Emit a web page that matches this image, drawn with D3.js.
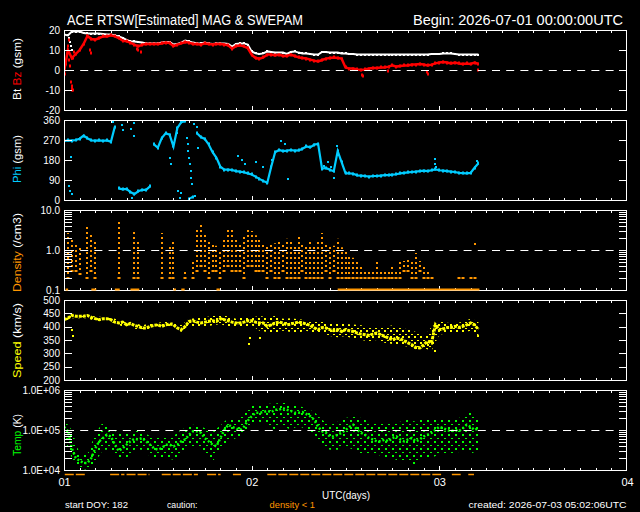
<!DOCTYPE html>
<html><head><meta charset="utf-8">
<script src="https://cdn.jsdelivr.net/npm/d3@7"></script>
<style>
html,body{margin:0;padding:0;background:#000;}
svg{display:block;}
text{font-family:"Liberation Sans",Arial,sans-serif;white-space:pre;}
</style></head><body>
<svg id="chart" width="640" height="512"></svg>
<script>
// ---------- DATA (hours since 2026-07-01 00:00 UTC) ----------
const STEP = 0.5;   // half-hourly samples for main series
const HSTEP = 1;    // hourly samples for spread envelopes
const dayLabels = ["01","02","03","04"];
const dayHours = [0,24,48,72];

const bzLabels = [-20,-10,0,10,20];
const bzTicks = [-10,0,10];
const phiLabels = [0,90,180,270,360];
const phiTicks = [90,180,270];
const denLabels = [0.1,1,10];
const denTicks = [0.2,0.3,0.4,0.5,0.6,0.7,0.8,0.9,1,2,3,4,5,6,7,8,9];
const spdLabels = [200,250,300,350,400,450,500];
const spdTicks = [250,300,350,400,450];
const tmpLabels = [1e4,1e5,1e6];
const tmpTickText = ["1.0E+04","1.0E+05","1.0E+06"];
const tmpTicks = [2e4,3e4,4e4,5e4,6e4,7e4,8e4,9e4,1e5,2e5,3e5,4e5,5e5,6e5,7e5,8e5,9e5];

const bt = [
 17.7,17.3,19.2,19.2,19.2,18.5,18.3,18.2,18.2,18.2,
 18.0,17.7,17.7,17.3,16.8,16.0,15.0,14.3,14.3,14.0,
 13.7,13.3,13.3,13.3,13.3,13.7,14.0,14.0,12.7,13.0,
 13.7,14.7,14.3,13.7,13.3,13.3,13.7,13.3,13.0,13.3,
 13.3,13.2,13.0,11.7,13.0,13.3,13.3,12.7,9.3,8.3,
 8.0,8.3,9.3,9.0,8.7,8.7,8.7,8.0,9.0,9.3,
 8.7,8.3,8.3,8.0,7.7,7.7,9.0,9.0,8.7,8.7,
 8.7,8.3,8.3,8.0,8.0,7.7,7.7,7.7,7.7,7.7,
 7.7,7.7,7.7,7.7,7.7,7.7,7.7,7.7,7.7,7.7,
 7.7,7.7,7.7,7.7,8.0,8.0,8.0,8.3,8.3,8.3,
 8.0,7.7,7.7,7.7,7.7,7.7,7.7];
const btOutT = [0.7,0.8,0.9,1.0];
const btOutV = [16,14,12,10];

const bz = [
 -1,10,6,8,10,13,17,15.5,15.2,16,
 16.8,16.8,17.3,16.8,16.0,14.7,14.3,13.7,12.7,11.8,
 12.7,13.0,13.0,13.0,13.0,13.3,13.7,13.5,12.0,12.7,
 13.3,14.0,13.7,13.0,13.0,12.7,13.3,13.0,12.7,13.0,
 13.0,12.7,12.3,10.7,12.0,12.3,11.8,11.0,7.7,6.0,
 5.7,6.3,7.7,7.7,7.3,7.7,7.0,7.0,7.7,7.0,
 6.3,6.0,5.7,5.2,4.7,4.3,5.0,5.7,6.0,6.3,
 6.0,5.7,1.3,0.7,0.7,0.3,0.0,0.3,0.7,1.0,
 1.0,1.3,1.3,1.7,2.3,1.7,2.0,2.3,2.3,2.7,
 2.7,3.0,2.7,2.3,2.7,3.3,3.7,4.0,3.7,3.3,
 3.7,3.3,3.0,3.3,3.0,3.7,3.0];
const bzOutT = [0.1,0.3,0.4,0.5,0.6,0.7,0.8,0.9,1.0,1.0,1.05,1.1,1.2,1.3,3.3,3.4,9.3,9.5,9.9,38.1,38.2,41.4,46.4,46.5,52.9];
const bzOutV = [-2,3,8,12,15,5,2,-6,-8,-10,-9,-10,6,9,10,8.5,10.5,10,9,-2.5,-3,-0.7,-1,-2,0];

const phi = [
 265,268,267,270,276,290,278,268,267,268,
 266,268,262,330,52,48,50,36,26,39,
 46,46,61,250,235,279,300,294,241,324,
 350,355,5,15,300,283,275,250,215,190,
 150,137,137,135,130,128,125,120,115,105,
 95,85,78,150,215,225,220,222,225,222,
 223,231,241,237,249,252,141,144,136,129,
 220,170,121,120,118,111,110,108,105,108,
 108,110,112,112,114,116,120,122,124,126,
 128,130,132,130,134,138,134,132,130,128,
 126,122,121,120,122,145,165];
const phiOutT = [0.7,0.8,0.9,1.0,6.3,7.4,7.5,8.6,8.7,8.9,9.0,13.6,13.7,14.4,14.6,14.8,15.0,15.3,15.7,15.8,15.9,16.0,16.1,16.2,16.3,16.4,16.6,16.8,17.0,17.2,22.2,22.8,23.2,24.5,25.5,26.6,27.7,28.3,28.6,33.2,33.8,34.2,34.5,34.9,47.4,47.5,47.6,52.8];
const phiOutV = [65,40,195,25,350,339,316,320,9,346,290,189,160,300,40,10,30,358,280,250,220,190,160,130,100,70,340,20,330,234,200,180,160,170,150,180,265,250,95,155,170,150,100,245,185,160,150,175];

const denLo = [
 null,0.2,0.3,0.3,0.25,null,0.2,0.3,0.2,null,
 null,null,null,null,0.2,null,null,null,0.2,0.2,
 null,null,null,null,null,0.2,null,0.2,0.2,null,
 null,0.2,null,0.2,0.3,0.4,0.3,0.2,0.3,0.3,
 0.2,0.3,0.4,0.3,0.3,0.3,0.2,0.4,0.4,0.3,
 0.3,0.3,0.2,0.3,0.2,0.2,0.3,0.2,0.2,0.2,
 0.2,0.3,0.2,0.2,0.2,0.2,0.2,0.3,0.2,0.3,
 0.2,0.2,0.2,0.2,0.2,0.2,0.2,0.2,0.2,0.2,
 0.2,0.2,0.2,0.2,0.2,0.2,0.2,0.3,0.3,0.2,
 0.2,0.3,0.2,0.2,0.2,null,null,null,null,null,
 null,0.2,0.2,null,0.2,0.2,null];
const denHi = [
 null,2.5,1.8,1.5,1.2,null,3.8,2.5,1.6,null,
 null,null,null,null,5.0,null,null,null,2.8,1.5,
 null,null,null,null,null,2.5,null,1.3,1.5,null,
 null,0.3,null,0.5,3.5,4.5,2.5,1.6,1.5,1.2,
 1.0,2.0,3.2,3.0,2.0,1.5,2.2,3.0,2.8,2.2,
 2.0,1.4,1.3,1.5,1.4,1.5,1.3,1.8,1.5,1.2,
 2.0,1.3,1.2,1.6,1.3,1.5,2.5,1.4,1.3,1.2,
 1.8,1.1,0.9,0.7,0.6,0.5,0.4,0.3,0.3,0.3,
 0.5,0.3,0.3,0.3,0.4,0.3,0.5,0.5,0.6,0.5,
 0.8,0.5,0.4,0.3,0.2,null,null,null,null,null,
 null,0.2,0.2,null,0.2,0.2,null];
const denOutT = [52.6];
const denOutV = [1.4];
const denFloorStart = [0.2,3.5,6.5,8.5,14.0,15.0,19.5,35.0];
const denFloorEnd   = [0.4,4.0,7.0,9.5,14.2,15.3,19.8,53.0];
const cautionStart = [0.1,5.9,8.0,12.5,15.2,18.3,21.6,26.0,49.6,51.7];
const cautionEnd   = [2.7,7.6,10.8,14.8,17.0,19.9,22.5,48.1,50.6,52.3];

const speed = [
 426,432,442,439,439,439,442,435,430,426,
 430,430,426,417,414,417,407,412,405,401,
 395,395,401,405,407,401,407,410,407,395,
 389,401,420,422,417,414,417,420,422,420,
 430,426,422,417,414,414,417,422,422,417,
 414,414,401,407,414,417,414,407,410,414,
 417,414,410,405,395,389,397,395,389,385,
 389,382,389,385,382,376,372,370,367,372,
 376,370,364,357,351,357,355,347,339,332,
 322,320,332,345,339,407,389,392,397,397,
 401,397,401,407,414,407,389];
const speedLo = [
 415,432,432,432,420,420,418,405,398,392,
 388,392,398,400,395,380,405,400,400,405,
 410,400,395,400,405,385,380,378,385,380,
 378,385,375,378,365,360,365,355,350,345,
 350,340,335,330,325,315,320,310,370,375,
 380,378,385,360];
const speedHi = [
 438,448,446,446,438,436,434,425,420,414,
 405,412,415,418,415,405,430,432,435,440,
 445,438,430,435,435,440,435,440,430,432,
 428,425,418,418,410,415,410,408,405,400,
 395,398,405,395,390,380,360,400,420,415,
 412,418,430,420];
const spdOutT = [1.0,1.1,23.6,23.8,25.1,46.6,47.4,52.9];
const spdOutV = [388,365,335,357,358,330,310,365];

const temp = [
 1.2e5,9.3e4,3.5e4,2.0e4,1.7e4,1.5e4,1.5e4,2.0e4,3.5e4,5.2e4,
 6.3e4,7.6e4,6.9e4,4.3e4,3.0e4,3.5e4,4.3e4,5.2e4,6.0e4,5.8e4,
 6.3e4,5.2e4,4.3e4,3.5e4,3.2e4,3.5e4,4.3e4,4.3e4,3.9e4,4.3e4,
 5.2e4,5.8e4,7.6e4,9.3e4,9.3e4,8.5e4,6.3e4,5.2e4,4.3e4,3.9e4,
 6.3e4,1.0e5,1.35e5,1.2e5,1.1e5,1.0e5,1.2e5,1.7e5,2.2e5,2.7e5,
 2.7e5,2.8e5,3.0e5,2.8e5,3.2e5,3.2e5,3.5e5,3.2e5,3.0e5,2.7e5,
 2.7e5,2.8e5,2.5e5,2.2e5,1.8e5,1.2e5,9.3e4,8.5e4,6.9e4,6.9e4,
 7.6e4,8.5e4,1.0e5,1.2e5,1.35e5,1.0e5,8.5e4,7.6e4,6.3e4,5.8e4,
 5.2e4,5.2e4,5.8e4,5.2e4,6.3e4,6.9e4,5.8e4,5.2e4,5.8e4,6.3e4,
 5.2e4,5.8e4,6.9e4,7.6e4,8.5e4,1.0e5,1.2e5,1.1e5,1.0e5,9.3e4,
 1.0e5,9.3e4,1.1e5,1.35e5,1.2e5,1.0e5,1.1e5];
const tempLo = [
 6.3e4,2.0e4,1.1e4,1.0e4,1.6e4,3.2e4,3.2e4,2.0e4,2.0e4,3.2e4,
 3.2e4,2.2e4,2.0e4,2.0e4,1.8e4,2.5e4,4.0e4,4.0e4,2.5e4,1.6e4,
 3.2e4,5.0e4,6.3e4,7.9e4,1.3e5,1.6e5,1.4e5,1.0e5,1.3e5,1.0e5,
 1.3e5,1.0e5,7.9e4,4.0e4,3.2e4,3.2e4,4.0e4,3.2e4,2.5e4,2.5e4,
 2.5e4,2.0e4,2.0e4,1.6e4,1.6e4,1.3e4,2.0e4,2.0e4,2.5e4,2.5e4,
 2.5e4,3.2e4,2.5e4,3.2e4];
const tempHi = [
 1.8e5,1.0e5,2.5e4,2.5e4,7.9e4,1.6e5,1.1e5,7.9e4,7.9e4,1.0e5,
 8.9e4,7.1e4,6.3e4,7.1e4,7.1e4,1.0e5,1.3e5,1.4e5,1.1e5,8.9e4,
 1.3e5,2.0e5,2.0e5,2.5e5,4.0e5,4.0e5,4.5e5,4.5e5,5.0e5,4.0e5,
 4.0e5,3.5e5,2.8e5,1.8e5,1.3e5,1.6e5,2.0e5,2.2e5,2.0e5,1.6e5,
 1.4e5,1.6e5,1.4e5,1.6e5,1.8e5,1.6e5,2.0e5,1.8e5,2.0e5,1.8e5,
 1.8e5,2.2e5,3.2e5,2.0e5];

// ---------- DRAWING ----------
const COL = {white:"#ffffff", red:"#ff0000", cyan:"#00ccff", orange:"#ff9600", yellow:"#ffff00", green:"#00ff00"};
const FONT = '"Liberation Sans", Arial, sans-serif';
const svg = d3.select("#chart");
svg.append("rect").attr("width",640).attr("height",512).attr("fill","#000");
const defs = svg.append("defs");

function dotPattern(id, color, size){
  const h = Math.floor(size/2);
  const p = defs.append("pattern").attr("id",id).attr("patternUnits","userSpaceOnUse")
    .attr("width",size).attr("height",size);
  p.append("rect").attr("x",0).attr("y",0).attr("width",2).attr("height",2).attr("fill",color);
  p.append("rect").attr("x",h).attr("y",h+1).attr("width",2).attr("height",1).attr("fill",color);
}
dotPattern("dotY", COL.yellow, 6);
dotPattern("dotG", COL.green, 7);

const x = d3.scaleLinear().domain([0,72]).range([64,627]);

const panels = [
  {key:"bz",  top:30,  y:d3.scaleLinear().domain([-20,20]).range([110,30]), labels:bzLabels, ticks:bzTicks, fmt:d=>String(d)},
  {key:"phi", top:120, y:d3.scaleLinear().domain([0,360]).range([200,120]), labels:phiLabels, ticks:phiTicks, fmt:d=>String(d)},
  {key:"den", top:210, y:d3.scaleLog().domain([0.1,10]).range([290,210]), labels:denLabels, ticks:denTicks, fmt:d=>d.toFixed(1)},
  {key:"spd", top:300, y:d3.scaleLinear().domain([200,500]).range([380,300]), labels:spdLabels, ticks:spdTicks, fmt:d=>String(d)},
  {key:"tmp", top:390, y:d3.scaleLog().domain([1e4,1e6]).range([470,390]), labels:tmpLabels, ticks:tmpTicks, fmt:(d,i)=>tmpTickText[i]},
];
const P = {};
panels.forEach(p=>{
  p.bottom = p.top + 80;
  defs.append("clipPath").attr("id","clip-"+p.key).append("rect")
    .attr("x",64).attr("y",p.top).attr("width",563).attr("height",80);
  p.g = svg.append("g").attr("clip-path",`url(#clip-${p.key})`);
  P[p.key] = p;
});

const series = (arr, step) => arr.map((v,i)=>({t:i*step, v}));
const pairs = (ts, vs) => ts.map((t,i)=>({t, v:vs[i]}));

function drawLine(p, pts, color, width, dash){
  const path = p.g.append("path").datum(pts)
    .attr("d", d3.line().x(d=>x(d.t)).y(d=>p.y(d.v)))
    .attr("fill","none").attr("stroke",color).attr("stroke-width",width);
  if(dash) path.attr("stroke-dasharray",dash);
}
function drawDots(p, pts, color, w, h){
  p.g.append("g").selectAll("rect").data(pts).join("rect")
    .attr("x",d=>Math.round(x(d.t))-w/2).attr("y",d=>Math.round(p.y(d.v))-h/2)
    .attr("width",w).attr("height",h).attr("fill",color);
}
function splitJumps(pts, maxJump){
  const segs=[]; let cur=[];
  pts.forEach(pt=>{
    if(cur.length && Math.abs(pt.v-cur[cur.length-1].v)>maxJump){segs.push(cur);cur=[];}
    cur.push(pt);
  });
  if(cur.length) segs.push(cur);
  return segs;
}
function drawCloud(p, lo, hi, step, patId){
  const pts = lo.map((v,i)=>({t:i*step, lo:v, hi:hi[i]}));
  p.g.append("path").datum(pts)
    .attr("d", d3.area().x(d=>x(d.t)).y0(d=>p.y(d.lo)).y1(d=>p.y(d.hi)))
    .attr("fill",`url(#${patId})`);
}

// Panel 1: Bt (white) and Bz (red)
{
  const p = P.bz;
  drawLine(p, series(bt,STEP), COL.white, 2);
  drawDots(p, series(bt,STEP), COL.white, 2, 2);
  drawDots(p, pairs(btOutT,btOutV), COL.white, 2, 2);
  drawLine(p, series(bz,STEP), COL.red, 2.5);
  drawDots(p, series(bz,STEP), COL.red, 2, 3);
  drawDots(p, pairs(bzOutT,bzOutV), COL.red, 2, 3);
}
// Panel 2: Phi
{
  const p = P.phi;
  splitJumps(series(phi,STEP), 150).forEach(seg=>drawLine(p, seg, COL.cyan, 2.2));
  drawDots(p, series(phi,STEP), COL.cyan, 2, 3);
  drawDots(p, pairs(phiOutT,phiOutV), COL.cyan, 2, 2);
}
// Panel 3: Density
{
  const p = P.den;
  const cols = denLo.map((v,i)=>({t:i*STEP, lo:v, hi:denHi[i]})).filter(d=>d.lo!=null);
  p.g.append("g").selectAll("line").data(cols).join("line")
    .attr("x1",d=>Math.round(x(d.t))).attr("x2",d=>Math.round(x(d.t)))
    .attr("y1",d=>p.y(d.lo)+1).attr("y2",d=>p.y(d.hi)-1)
    .attr("stroke",COL.orange).attr("stroke-width",2).attr("stroke-dasharray","2,3");
  drawDots(p, cols.map(d=>({t:d.t, v:d.lo})), COL.orange, 3, 2);
  drawDots(p, pairs(denOutT,denOutV), COL.orange, 2, 2);
}
// Panel 4: Speed
{
  const p = P.spd;
  drawCloud(p, speedLo, speedHi, HSTEP, "dotY");
  drawLine(p, series(speed,STEP), COL.yellow, 3, "3,1");
  drawDots(p, pairs(spdOutT,spdOutV), COL.yellow, 2, 2);
}
// Panel 5: Temperature
{
  const p = P.tmp;
  drawCloud(p, tempLo, tempHi, HSTEP, "dotG");
  drawLine(p, series(temp,STEP), COL.green, 2.5, "2,2");
}

// Dashed reference lines
[[P.bz,0],[P.den,1],[P.tmp,1e5]].forEach(([p,v])=>{
  svg.append("line").attr("x1",66).attr("x2",627).attr("y1",Math.round(p.y(v))+0.5).attr("y2",Math.round(p.y(v))+0.5)
    .attr("stroke",COL.white).attr("stroke-width",1).attr("stroke-dasharray","8,6.2");
});

// Frames and axes
const xMinor = d3.range(2,72,2).filter(h=>h%24!==0);
const xMajor = [24,48];
panels.forEach(p=>{
  svg.append("rect").attr("x",64.5).attr("y",p.top+0.5).attr("width",562).attr("height",80)
    .attr("fill","none").attr("stroke",COL.white).attr("stroke-width",1).attr("shape-rendering","crispEdges");
  const styl = g=>{g.select(".domain").remove(); g.attr("color",COL.white).attr("shape-rendering","crispEdges");};
  svg.append("g").attr("transform","translate(64,0)")
    .call(d3.axisLeft(p.y).tickValues(p.ticks).tickSize(-8).tickFormat("")).call(styl);
  svg.append("g").attr("transform","translate(627,0)")
    .call(d3.axisRight(p.y).tickValues(p.ticks).tickSize(-8).tickFormat("")).call(styl);
  svg.append("g").attr("transform",`translate(0,${p.top})`)
    .call(d3.axisBottom(x).tickValues(xMinor).tickSize(2.5).tickFormat("")).call(styl);
  svg.append("g").attr("transform",`translate(0,${p.bottom})`)
    .call(d3.axisTop(x).tickValues(xMinor).tickSize(2.5).tickFormat("")).call(styl);
  svg.append("g").attr("transform",`translate(0,${p.top})`)
    .call(d3.axisBottom(x).tickValues(xMajor).tickSize(4).tickFormat("")).call(styl);
  svg.append("g").attr("transform",`translate(0,${p.bottom})`)
    .call(d3.axisTop(x).tickValues(xMajor).tickSize(4).tickFormat("")).call(styl);
  const lab = svg.append("g").attr("transform","translate(64,0)")
    .call(d3.axisLeft(p.y).tickValues(p.labels).tickSize(0).tickPadding(4).tickFormat(p.fmt));
  lab.select(".domain").remove();
  lab.attr("color",COL.white).attr("font-family",FONT).attr("font-size",10);
});

// density floor marks and caution marks
svg.append("g").selectAll("line").data(denFloorStart.map((s,i)=>[s,denFloorEnd[i]])).join("line")
  .attr("x1",d=>x(d[0])).attr("x2",d=>x(d[1])+1).attr("y1",289.5).attr("y2",289.5)
  .attr("stroke",COL.orange).attr("stroke-width",2);
svg.append("g").selectAll("line").data(cautionStart.map((s,i)=>[s,cautionEnd[i]])).join("line")
  .attr("x1",d=>x(d[0])).attr("x2",d=>x(d[1])+1).attr("y1",474.5).attr("y2",474.5)
  .attr("stroke",COL.orange).attr("stroke-width",1.5).attr("stroke-dasharray","9,2");

// x day labels
{
  const g = svg.append("g").attr("transform","translate(0,470)")
    .call(d3.axisBottom(x).tickValues(dayHours).tickSize(0).tickPadding(8).tickFormat((d,i)=>dayLabels[i]));
  g.select(".domain").remove();
  g.attr("color",COL.white).attr("font-family",FONT).attr("font-size",11);
}

// texts
function txt(s, x0, y0, size, len, color, anchor){
  return svg.append("text").attr("x",x0).attr("y",y0).attr("font-size",size)
    .attr("fill",color||COL.white).attr("text-anchor",anchor||"start")
    .attr("textLength",len).attr("lengthAdjust","spacingAndGlyphs").text(s);
}
txt("ACE RTSW[Estimated] MAG & SWEPAM", 67, 25, 14, 236);
txt("Begin: 2026-07-01 00:00:00UTC", 413, 25, 14, 210);
txt("UTC(days)", 322, 498.5, 11, 48);
txt("start DOY: 182", 65, 507.5, 9.5, 63);
txt("caution:", 167, 507.5, 9.5, 30.5);
txt("density < 1", 269.5, 507.5, 9.5, 45.5, COL.orange);
txt("created: 2026-07-03 05:02:06UTC", 468.5, 507.5, 9.5, 158);

function yTitle(cy, len, parts){
  const t = svg.append("text").attr("transform",`translate(21,${cy}) rotate(-90)`)
    .attr("text-anchor","middle").attr("font-size",11)
    .attr("textLength",len).attr("lengthAdjust","spacingAndGlyphs");
  parts.forEach(([s,c])=>t.append("tspan").attr("fill",c).text(s));
}
yTitle(69, 62, [["Bt ",COL.white],["Bz",COL.red],[" (gsm)",COL.white]]);
yTitle(159, 48, [["Phi",COL.cyan],[" (gsm)",COL.white]]);
yTitle(252.5, 79, [["Density",COL.orange],[" (/cm3)",COL.white]]);
yTitle(340.5, 75, [["Speed",COL.yellow],[" (km/s)",COL.white]]);
yTitle(435, 42, [["Temp",COL.green],[" (K)",COL.white]]);
</script>
</body></html>
